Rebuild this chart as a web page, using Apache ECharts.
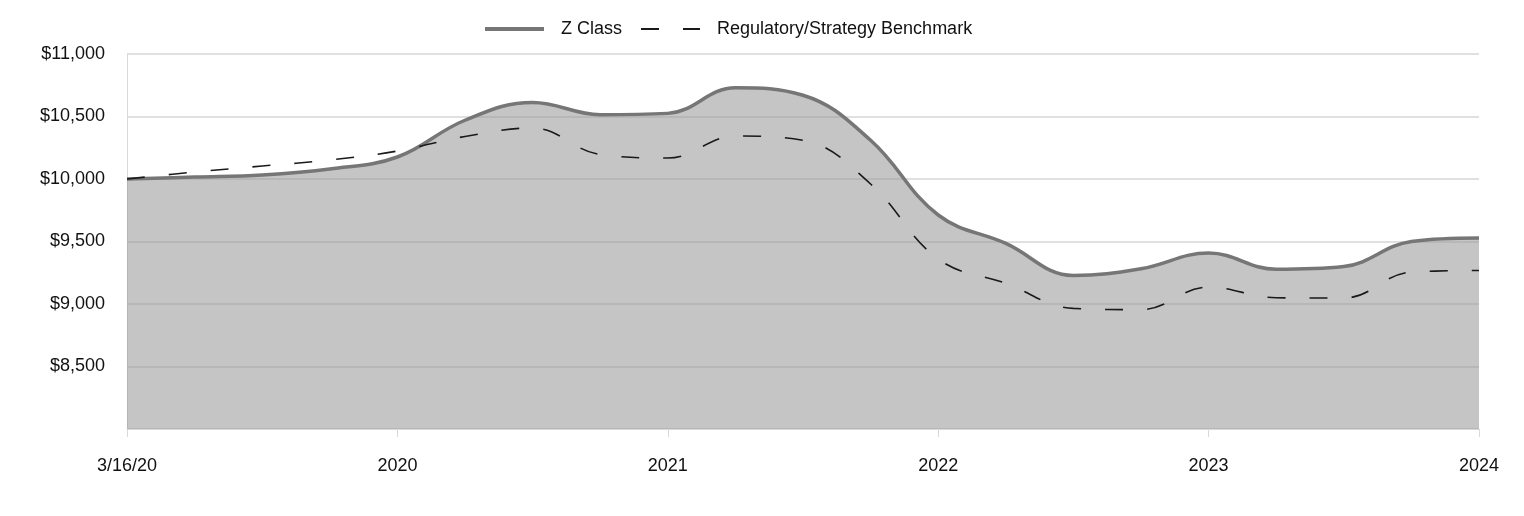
<!DOCTYPE html>
<html>
<head>
<meta charset="utf-8">
<script src="https://cdn.jsdelivr.net/npm/echarts@6/dist/echarts.min.js"></script>
<style>
  html, body { margin: 0; padding: 0; background: #fff; }
  #chart { width: 1524px; height: 516px; }
</style>
</head>
<body>
<div id="chart"></div>
<script>
// quarterly points, 3/16/20 .. 2024
var periods = ['0', '1', '2', '3', '4', '5', '6', '7', '8', '9', '10',
    '11', '12', '13', '14', '15', '16', '17', '18', '19', '20'];
var tickLabels = ['3/16/20', '2020', '2021', '2022', '2023', '2024'];

var zClass = [10000, 10016, 10032, 10080, 10176, 10470, 10612, 10515, 10525, 10730,
    10670, 10310, 9712, 9485, 9228, 9282, 9408, 9278, 9300, 9500, 9528];
var benchmark = [10000, 10056, 10104, 10152, 10224, 10340, 10408, 10196, 10168, 10344,
    10310, 9960, 9360, 9165, 8965, 8955, 9135, 9050, 9048, 9256, 9268];

var FONT = '"Liberation Sans", Arial, sans-serif';

var chart = echarts.init(document.getElementById('chart'));

var option = {
    animation: false,
    legend: {
        top: 20,
        left: 483,
        padding: 0,
        itemWidth: 59,
        itemHeight: 14,
        itemGap: 18,
        itemStyle: { opacity: 0 },
        textStyle: {
            fontFamily: FONT,
            fontSize: 18,
            color: '#111',
            padding: [0, 0, 0, 12]
        },
        data: [
            { name: 'Z Class', lineStyle: { width: 4, color: '#767676' } },
            { name: 'Regulatory/Strategy Benchmark', lineStyle: { width: 2, color: '#1a1a1a', type: [18, 24] } }
        ]
    },
    grid: {
        left: 127,
        right: 45,
        top: 54,
        bottom: 87
    },
    xAxis: {
        type: 'category',
        boundaryGap: false,
        data: periods,
        axisLine: { lineStyle: { color: '#d9d9d9', width: 1 } },
        axisTick: {
            interval: 3,
            length: 8,
            lineStyle: { color: '#d9d9d9' }
        },
        axisLabel: {
            interval: 3,
            margin: 28,
            fontFamily: FONT,
            fontSize: 18,
            color: '#111',
            formatter: function (v, i) {
                return tickLabels[i / 4];
            }
        },
        splitLine: { show: false }
    },
    yAxis: {
        type: 'value',
        min: 8000,
        max: 11000,
        interval: 500,
        axisLine: { show: true, lineStyle: { color: '#d9d9d9' } },
        axisTick: { show: false },
        axisLabel: {
            showMinLabel: false,
            margin: 22,
            fontFamily: FONT,
            fontSize: 18,
            color: '#111',
            formatter: function (v) {
                return '$' + v.toLocaleString('en-US');
            }
        },
        splitLine: { lineStyle: { color: '#e0e0e0', width: 2 } }
    },
    series: [
        {
            name: 'Z Class',
            type: 'line',
            smooth: 0.4,
            symbol: 'none',
            z: 2,
            lineStyle: { color: '#767676', width: 3.5 },
            itemStyle: { color: '#767676' },
            areaStyle: { color: '#969696', opacity: 0.55, origin: 'start' },
            data: zClass
        },
        {
            name: 'Regulatory/Strategy Benchmark',
            type: 'line',
            smooth: 0.4,
            symbol: 'none',
            z: 3,
            lineStyle: { color: '#1a1a1a', width: 1.6, type: [18, 24] },
            itemStyle: { color: '#1a1a1a' },
            data: benchmark
        }
    ]
};

chart.setOption(option);
</script>
</body>
</html>
